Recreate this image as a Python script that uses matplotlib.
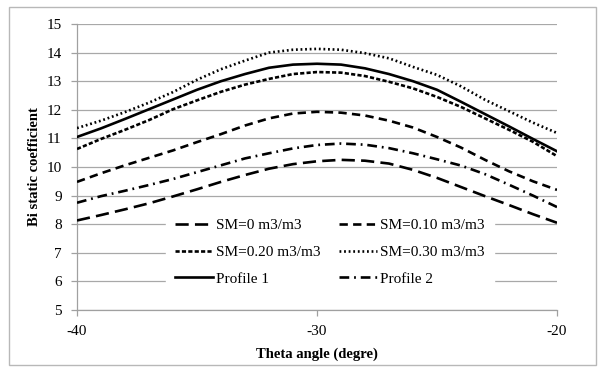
import matplotlib
matplotlib.use("Agg")
import matplotlib.pyplot as plt
from matplotlib.patches import Rectangle

plt.rcParams['font.family'] = ['Liberation Serif', 'DejaVu Serif']
plt.rcParams['lines.scale_dashes'] = False

theta = [-40, -39, -38, -37, -36, -35, -34, -33, -32, -31, -30,
         -29, -28, -27, -26, -25, -24, -23, -22, -21, -20]

sm_000 = [8.13, 8.32, 8.52, 8.73, 8.97, 9.22, 9.48, 9.72, 9.94, 10.10, 10.20,
          10.25, 10.22, 10.12, 9.90, 9.62, 9.30, 8.98, 8.67, 8.35, 8.05]
sm_010 = [9.48, 9.78, 10.06, 10.32, 10.58, 10.87, 11.15, 11.45, 11.70, 11.87, 11.93,
          11.90, 11.80, 11.62, 11.38, 11.05, 10.68, 10.25, 9.85, 9.50, 9.20]
sm_020 = [10.63, 10.98, 11.30, 11.64, 12.02, 12.33, 12.63, 12.88, 13.08, 13.25, 13.32,
          13.30, 13.18, 12.98, 12.75, 12.45, 12.10, 11.70, 11.30, 10.88, 10.38]
sm_030 = [11.36, 11.62, 11.92, 12.25, 12.62, 13.05, 13.42, 13.72, 14.00, 14.10, 14.13,
          14.10, 13.98, 13.80, 13.50, 13.22, 12.82, 12.35, 11.95, 11.55, 11.19]
profile1 = [11.05, 11.35, 11.68, 12.02, 12.36, 12.70, 13.00, 13.25, 13.47, 13.58, 13.61,
            13.58, 13.45, 13.25, 13.00, 12.70, 12.28, 11.85, 11.42, 10.98, 10.55]
profile2 = [8.75, 8.98, 9.17, 9.37, 9.58, 9.82, 10.06, 10.30, 10.48, 10.65, 10.77,
            10.82, 10.78, 10.66, 10.48, 10.27, 10.05, 9.75, 9.38, 9.00, 8.60]

labels = ["SM=0 m3/m3", "SM=0.10 m3/m3", "SM=0.20 m3/m3",
          "SM=0.30 m3/m3", "Profile 1", "Profile 2"]
xticks = [-40, -30, -20]
yticks = [5, 6, 7, 8, 9, 10, 11, 12, 13, 14, 15]

fig = plt.figure(figsize=(5.98, 3.67), dpi=100)
fig.patches.append(Rectangle((9 / 598, 2 / 367), 587 / 598, 358 / 367,
                             transform=fig.transFigure, fill=False,
                             edgecolor='#b8b8b8', linewidth=1.0))
ax = fig.add_axes([77 / 598, 1 - 310 / 367, 480 / 598, 286 / 367])

lw = 1.9
styles = [
    dict(dashes=(9.5, 4.5)),            # SM=0
    dict(dashes=(6.0, 3.8)),            # SM=0.10
    dict(dashes=(3.0, 1.6)),            # SM=0.20
    dict(dashes=(1.3, 2.0)),            # SM=0.30
    dict(linestyle='-'),                # Profile 1
    dict(dashes=(7.0, 3.5, 1.3, 3.5)),  # Profile 2
]
series = [sm_000, sm_010, sm_020, sm_030, profile1, profile2]
handles = []
for vals, st, lab in zip(series, styles, labels):
    h, = ax.plot(theta, vals, color='black', linewidth=lw, label=lab,
                 zorder=3, **st)
    handles.append(h)

ax.set_xlim(-40, -20)
ax.set_ylim(5, 15)
ax.set_xticks(xticks)
ax.set_xticklabels([str(v) for v in xticks])
ax.set_yticks(yticks)
ax.set_yticklabels([str(v) for v in yticks])
ax.yaxis.grid(True, color='#a8a8a8', linewidth=0.9)
ax.set_axisbelow(True)
for s in ['top', 'right']:
    ax.spines[s].set_visible(False)
for s in ['left', 'bottom']:
    ax.spines[s].set_color('#a0a0a0')
    ax.spines[s].set_linewidth(0.9)
ax.tick_params(axis='both', colors='#a0a0a0', labelcolor='black',
               labelsize=11, direction='out', length=4, width=0.9)
ax.tick_params(axis='y', pad=7)
ax.tick_params(axis='x', pad=7)

ax.set_xlabel('Theta angle (degre)', fontsize=10.5, fontweight='bold',
              labelpad=7)
ax.set_ylabel('Bi static coefficient', fontsize=10.5, fontweight='bold',
              labelpad=4)

order = [0, 2, 4, 1, 3, 5]
leg = ax.legend([handles[i] for i in order], [labels[i] for i in order],
                ncol=2, loc='center',
                bbox_to_anchor=((330 - 77) / 480, (310 - 252) / 286),
                frameon=True, fancybox=False, framealpha=1.0,
                edgecolor='white', facecolor='white',
                fontsize=11, handlelength=2.5, handletextpad=0.2,
                columnspacing=1.2, labelspacing=0.85, borderpad=0.6)
leg.set_zorder(1)

fig.savefig('out.png', dpi=100)
